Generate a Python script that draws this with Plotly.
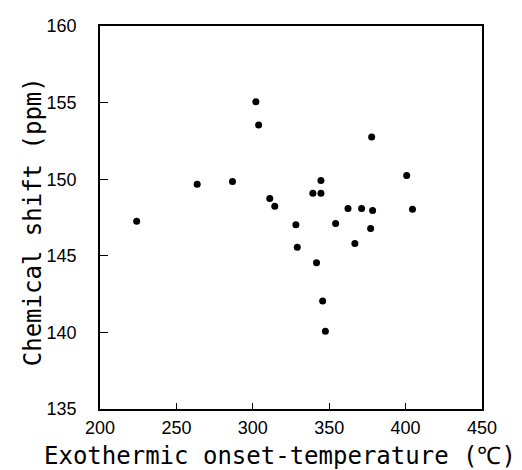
import plotly.graph_objects as go

# Exothermic onset-temperature (°C)
temp = [224.0, 263.6, 286.7, 302.0, 303.8, 311.1, 314.4, 328.2, 329.1,
        339.3, 341.7, 344.6, 344.6, 345.7, 347.5, 354.2, 362.3, 366.8, 371.2,
        377.1, 377.8, 378.4, 400.7, 404.5]
# Chemical shift (ppm)
shift = [147.26, 149.67, 149.85, 155.05, 153.53, 148.74, 148.24, 147.03, 145.55,
         149.09, 144.55, 149.92, 149.09, 142.05, 140.07, 147.11, 148.09, 145.81, 148.09,
         146.79, 152.76, 147.96, 150.24, 148.04]

x_ticks = [200, 250, 300, 350, 400, 450]
y_ticks = [135, 140, 145, 150, 155, 160]
x_title = "Exothermic onset-temperature (℃)"
y_title = "Chemical shift (ppm)"

fig = go.Figure(go.Scatter(
    x=temp, y=shift, mode="markers",
    marker=dict(color="black", size=7),
    showlegend=False,
))

tick_font = dict(family="Liberation Sans, Arial, sans-serif", size=18, color="black")
title_font = dict(family="DejaVu Sans Mono, monospace", size=24, color="black")

fig.update_layout(
    width=522, height=470,
    margin=dict(l=92, r=48, t=18, b=69),
    paper_bgcolor="white", plot_bgcolor="white",
    xaxis=dict(
        range=[200, 450], tickvals=x_ticks, ticks="inside", ticklen=6,
        tickcolor="black", showgrid=False, zeroline=False,
        showline=True, linecolor="black", linewidth=1.5, mirror=True,
        tickfont=tick_font, ticklabelstandoff=2,
        automargin=False,
    ),
    yaxis=dict(
        range=[135, 160], tickvals=y_ticks, ticks="inside", ticklen=8,
        tickcolor="black", showgrid=False, zeroline=False,
        showline=True, linecolor="black", linewidth=1.5, mirror=True,
        tickfont=tick_font, ticklabelstandoff=18,
        automargin=False,
    ),
    annotations=[
        dict(text=x_title, xref="paper", yref="paper", x=0.471, y=-0.123,
             xanchor="center", yanchor="middle", showarrow=False, font=title_font,
             borderpad=0),
        dict(text=y_title, xref="paper", yref="paper", x=-0.175, y=0.488,
             xanchor="center", yanchor="middle", showarrow=False, font=title_font,
             textangle=-90),
    ],
)

fig.write_html("out.html")
